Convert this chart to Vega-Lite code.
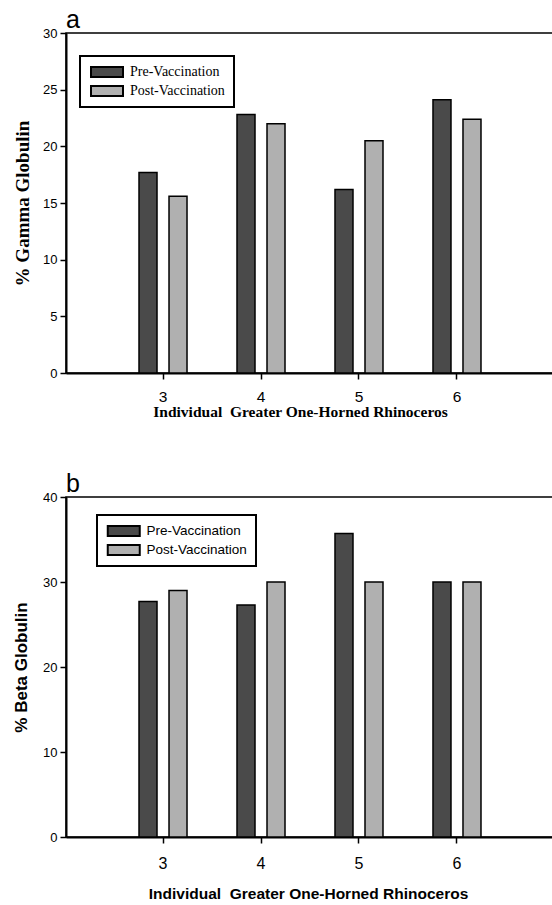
{
  "$schema": "https://vega.github.io/schema/vega-lite/v6.json",
  "background": "white",
  "padding": {"left": 11, "top": 7, "right": 0, "bottom": 0},
  "spacing": 50,
  "config": {
    "view": {"stroke": "black", "strokeWidth": 1.5},
    "axis": {"grid": false, "domainColor": "black", "domainWidth": 2, "tickColor": "black", "tickWidth": 1.5, "tickSize": 6, "labelColor": "black", "titleColor": "black", "labelFont": "Liberation Sans"},
    "legend": {"strokeColor": "black", "strokeWidth": 2, "padding": 9, "labelColor": "black", "labelFontSize": 14, "symbolType": "M-1,-1H5.4V1H-1Z", "symbolSize": 100, "symbolStrokeColor": "black", "symbolStrokeWidth": 2, "labelOffset": 27, "rowPadding": 5, "clipHeight": 14, "title": null, "fillColor": "white"}
  },
  "vconcat": [
    {
      "width": 488,
      "height": 340,
      "title": {"text": "a", "anchor": "start", "frame": "group", "fontSize": 25, "font": "Liberation Sans", "fontWeight": "normal", "offset": -6, "color": "black"},
      "data": {"values": [
        {"animal": "3", "period": "Pre-Vaccination", "value": 17.7},
        {"animal": "3", "period": "Post-Vaccination", "value": 15.6},
        {"animal": "4", "period": "Pre-Vaccination", "value": 22.8},
        {"animal": "4", "period": "Post-Vaccination", "value": 22.0},
        {"animal": "5", "period": "Pre-Vaccination", "value": 16.2},
        {"animal": "5", "period": "Post-Vaccination", "value": 20.5},
        {"animal": "6", "period": "Pre-Vaccination", "value": 24.1},
        {"animal": "6", "period": "Post-Vaccination", "value": 22.4}
      ]},
      "mark": {"type": "bar", "stroke": "black", "strokeWidth": 1.5},
      "encoding": {
        "x": {"field": "animal", "type": "nominal", "scale": {"paddingInner": 0, "paddingOuter": 0.49},
          "axis": {"title": "Individual\u00a0 Greater One-Horned Rhinoceros", "titleFont": "Liberation Serif", "titleFontSize": 15.5, "titleFontWeight": "bold", "titlePadding": 0, "titleX": 234, "labelAngle": 0, "labelFontSize": 15.5, "labelPadding": 10}},
        "xOffset": {"field": "period", "type": "nominal", "sort": ["Pre-Vaccination", "Post-Vaccination"], "scale": {"paddingInner": 0.4, "paddingOuter": 0.833}},
        "y": {"field": "value", "type": "quantitative", "scale": {"domain": [0, 30], "nice": false},
          "axis": {"title": "% Gamma Globulin", "values": [0, 5, 10, 15, 20, 25, 30], "titleFont": "Liberation Serif", "titleFontSize": 19, "titleFontWeight": "bold", "titlePadding": 10, "labelFontSize": 13, "labelPadding": 3}},
        "color": {"field": "period", "type": "nominal", "sort": ["Pre-Vaccination", "Post-Vaccination"],
          "scale": {"domain": ["Pre-Vaccination", "Post-Vaccination"], "range": ["#4a4a4a", "#b0b0b0"]},
          "legend": {"orient": "none", "legendX": 14, "legendY": 23, "labelFont": "Liberation Serif"}}
      }
    },
    {
      "width": 488,
      "height": 340,
      "title": {"text": "b", "anchor": "start", "frame": "group", "fontSize": 25, "font": "Liberation Sans", "fontWeight": "normal", "offset": -6, "color": "black"},
      "data": {"values": [
        {"animal": "3", "period": "Pre-Vaccination", "value": 27.7},
        {"animal": "3", "period": "Post-Vaccination", "value": 29.0},
        {"animal": "4", "period": "Pre-Vaccination", "value": 27.3},
        {"animal": "4", "period": "Post-Vaccination", "value": 30.0},
        {"animal": "5", "period": "Pre-Vaccination", "value": 35.7},
        {"animal": "5", "period": "Post-Vaccination", "value": 30.0},
        {"animal": "6", "period": "Pre-Vaccination", "value": 30.0},
        {"animal": "6", "period": "Post-Vaccination", "value": 30.0}
      ]},
      "mark": {"type": "bar", "stroke": "black", "strokeWidth": 1.5},
      "encoding": {
        "x": {"field": "animal", "type": "nominal", "scale": {"paddingInner": 0, "paddingOuter": 0.49},
          "axis": {"title": "Individual\u00a0 Greater One-Horned Rhinoceros", "titleFont": "Liberation Sans", "titleFontSize": 15.5, "titleFontWeight": "bold", "titlePadding": 15, "titleX": 242, "labelAngle": 0, "labelFontSize": 16, "labelPadding": 12}},
        "xOffset": {"field": "period", "type": "nominal", "sort": ["Pre-Vaccination", "Post-Vaccination"], "scale": {"paddingInner": 0.4, "paddingOuter": 0.833}},
        "y": {"field": "value", "type": "quantitative", "scale": {"domain": [0, 40], "nice": false},
          "axis": {"title": "% Beta Globulin", "values": [0, 10, 20, 30, 40], "titleFont": "Liberation Sans", "titleFontSize": 17, "titleFontWeight": "bold", "titlePadding": 12, "labelFontSize": 13, "labelPadding": 3}},
        "color": {"field": "period", "type": "nominal", "sort": ["Pre-Vaccination", "Post-Vaccination"],
          "scale": {"domain": ["Pre-Vaccination", "Post-Vaccination"], "range": ["#4a4a4a", "#b0b0b0"]},
          "legend": {"orient": "none", "legendX": 31, "legendY": 18, "labelFont": "Liberation Sans", "labelFontSize": 13.5}}
      }
    }
  ],
  "resolve": {"scale": {"color": "independent"}, "legend": {"color": "independent"}}
}
